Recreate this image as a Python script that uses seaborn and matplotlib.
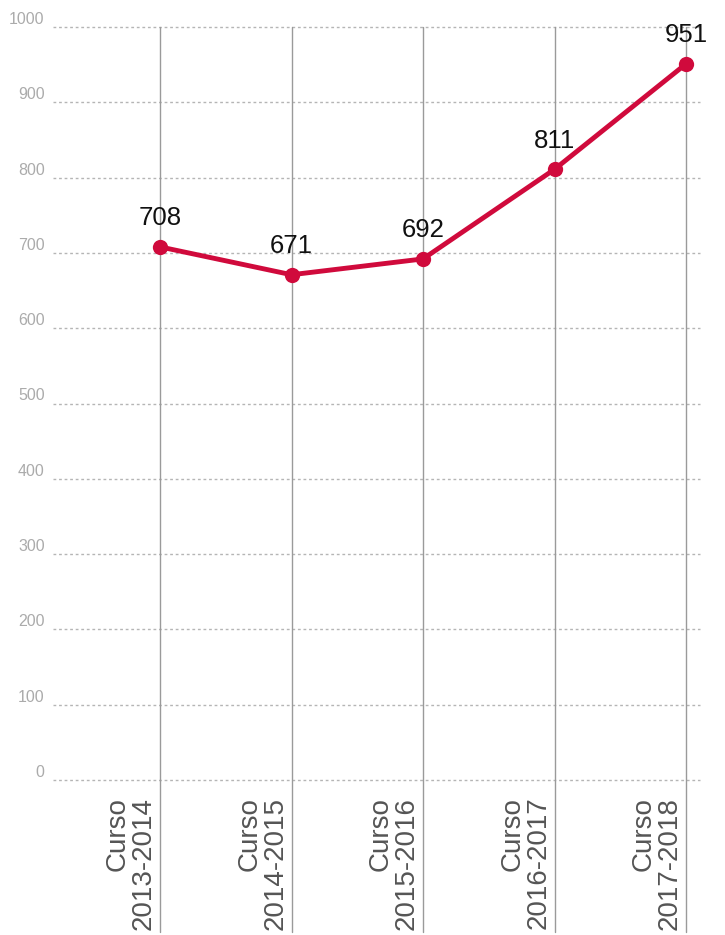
import matplotlib
matplotlib.use("Agg")
import matplotlib.pyplot as plt
import matplotlib.transforms as mtransforms
import seaborn as sns
import pandas as pd
from matplotlib import font_manager

cursos = ["Curso\n2013-2014", "Curso\n2014-2015", "Curso\n2015-2016", "Curso\n2016-2017", "Curso\n2017-2018"]
valores = [708, 671, 692, 811, 951]
yticks = [0, 100, 200, 300, 400, 500, 600, 700, 800, 900, 1000]

sns.set_style("white")
names = {f.name for f in font_manager.fontManager.ttflist}
narrow = "Liberation Sans Narrow" in names
fam = "Liberation Sans Narrow" if narrow else "Liberation Sans"
plt.rcParams["font.family"] = [fam, "DejaVu Sans"]

df = pd.DataFrame({"pos": range(len(cursos)), "valor": valores})

fig = plt.figure(figsize=(7.25, 9.35), dpi=100)
ax = fig.add_axes([53/725, 1-780/935, (700-53)/725, (780-27)/935])

red = "#d00a3c"
for i in range(len(cursos)):
    ax.axvline(i, ymin=-0.202, ymax=1, color="#9a9a9a", lw=1, clip_on=False, zorder=1)

sns.lineplot(data=df, x="pos", y="valor", ax=ax, color=red, lw=3.5, marker="o",
             markersize=11, markeredgewidth=0, zorder=3)

for i, v in enumerate(valores):
    ax.annotate(str(v), (i, v), xytext=(0, 12), textcoords="offset points",
                ha="center", va="bottom", fontsize=18.5, color="#111111",
                annotation_clip=False)

ax.set_ylim(0, 1000)
ax.set_xlim((53-160)/131.5, (700-160)/131.5)
ax.set_yticks(yticks)
ax.set_yticklabels([str(t) for t in yticks])
ax.grid(axis="y", color="#b5b5b5", linestyle=(0, (2, 2)), lw=1)
ax.grid(axis="x", visible=False)
for gl in ax.get_ygridlines():
    gl.set_clip_on(False)
ax.set_axisbelow(True)
for s in ax.spines.values():
    s.set_visible(False)
ax.tick_params(axis="y", length=0, pad=6, labelsize=11.5, labelcolor="#ababab")
ax.tick_params(axis="x", length=0, pad=12)
for lab in ax.get_yticklabels():
    lab.set_va("bottom")

ax.set_xticks(range(len(cursos)))
ax.set_xticklabels(cursos, rotation=90, ha="right", va="top", multialignment="right",
                   fontsize=20, color="#555555", linespacing=1.0)
off = mtransforms.ScaledTranslation(-3/100, 0, fig.dpi_scale_trans)
for lab in ax.get_xticklabels():
    lab.set_transform(lab.get_transform() + off)

ax.set_xlabel("")
ax.set_ylabel("")

fig.savefig("out.png", dpi=100)
